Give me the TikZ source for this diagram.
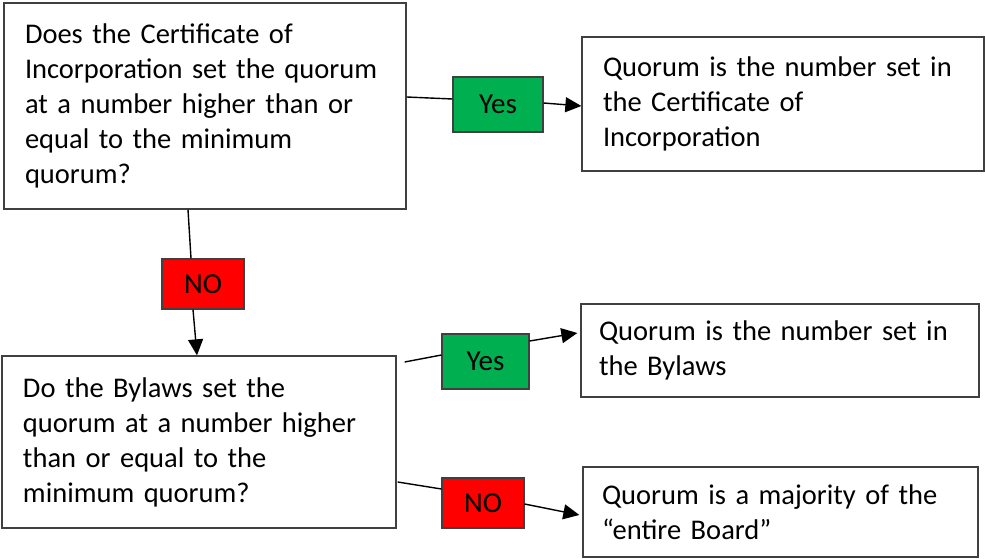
\documentclass[tikz,border=0pt]{standalone}
\usepackage{fontspec}
\setmainfont{Carlito}
\usetikzlibrary{arrows.meta,calc}
\definecolor{yesgreen}{HTML}{00B050}
\definecolor{nored}{HTML}{FF0000}
\definecolor{edge}{HTML}{404040}
\tikzset{
  qbox/.style={draw=edge, line width=1.3pt, rectangle, align=left, inner ysep=0pt,
    font=\fontsize{28.5}{35}\selectfont},
  lab/.style={draw=edge, line width=1.1pt, rectangle, inner sep=0pt,
    font=\fontsize{29}{32}\selectfont},
  yeslab/.style={lab, fill=yesgreen},
  nolab/.style={lab, fill=nored},
  conn/.style={draw=black, line width=1.4pt},
  arr/.style={conn, -{Triangle[length=16pt,width=15pt]}}
}
\begin{document}
\begin{tikzpicture}[x=1pt,y=-1pt]
\useasboundingbox (0,0) rectangle (985,559);
% main boxes
\node[qbox, inner xsep=21pt, text width=360pt, minimum height=206pt] (B1) at (205,106)
  {Does the Certificate of\\Incorporation set the quorum\\at a number higher than or\\equal to the minimum\\quorum?};
\node[qbox, inner xsep=21pt, text width=360pt, minimum height=134pt] (B2) at (783,104)
  {Quorum is the number set in\\the Certificate of\\Incorporation};
\node[qbox, inner xsep=21pt, text width=352pt, minimum height=172pt] (B3) at (199,442)
  {Do the Bylaws set the\\quorum at a number higher\\than or equal to the\\minimum quorum?};
\node[qbox, inner xsep=18pt, text width=362pt, minimum height=93pt] (B4) at (780,350.5)
  {Quorum is the number set in\\the Bylaws};
\node[qbox, inner xsep=19pt, text width=357pt, minimum height=90pt] (B5) at (780.5,512)
  {Quorum is a majority of the\\“entire Board”};
% labels
\node[yeslab, minimum width=90pt, minimum height=55pt] (Y1) at (498,104.5) {Yes};
\node[nolab, minimum width=82pt, minimum height=50pt] (N1) at (203,284) {NO};
\node[yeslab, minimum width=87pt, minimum height=55pt] (Y2) at (485.5,361.5) {Yes};
\node[nolab, minimum width=82pt, minimum height=50pt] (N2) at (483,503) {NO};
% connectors
\draw[conn] ($(B1.east)+(0,-9)$) -- ($(Y1.west)+(0,-5.5)$);
\draw[arr] ($(Y1.east)+(0,-1.5)$) -- ($(B2.west)+(0,2)$);
\draw[conn] ($(B1.south)+(-17,0)$) -- ($(N1.north)+(-12,0)$);
\draw[arr] ($(N1.south)+(-10,0)$) -- ($(B3.north)+(-2,0)$);
\draw[conn] ($(B3.east)+(8,-80)$) -- ($(Y2.west)+(0,-6.5)$);
\draw[arr] ($(Y2.east)+(0,-20.5)$) -- ($(B4.west)+(-3,-17.5)$);
\draw[conn] ($(B3.east)+(1,40)$) -- ($(N2.west)+(0,-14)$);
\draw[arr] ($(N2.east)+(0,1)$) -- ($(B5.west)+(-3,3)$);
\end{tikzpicture}
\end{document}
